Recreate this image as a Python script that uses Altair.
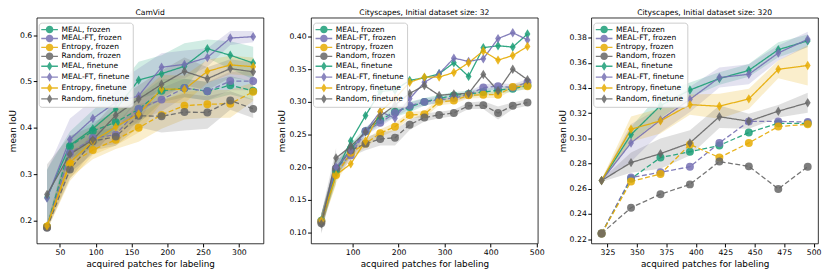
import altair as alt
import pandas as pd

SERIES = ["MEAL, frozen", "MEAL-FT, frozen", "Entropy, frozen", "Random, frozen",
          "MEAL, finetune", "MEAL-FT, finetune", "Entropy, finetune", "Random, finetune"]
COLORS = ["#1b9e77", "#7570b3", "#e6ab02", "#666666"] * 2
KINDS = ["frozen"] * 4 + ["finetune"] * 4

# ---------------- CamVid ----------------
cam_x = [32, 64, 96, 128, 160, 192, 224, 256, 288, 320]
cam_meal_frozen = [0.186, 0.360, 0.393, 0.412, 0.440, 0.480, 0.486, 0.479, 0.492, 0.480]
cam_mealft_frozen = [0.185, 0.345, 0.378, 0.385, 0.441, 0.461, 0.486, 0.479, 0.501, 0.501]
cam_entropy_frozen = [0.187, 0.322, 0.352, 0.374, 0.400, 0.428, 0.448, 0.451, 0.452, 0.478]
cam_random_frozen = [0.184, 0.310, 0.371, 0.381, 0.426, 0.425, 0.434, 0.433, 0.459, 0.441]
cam_meal_ft = [0.250, 0.362, 0.398, 0.440, 0.503, 0.517, 0.533, 0.571, 0.557, 0.540]
cam_mealft_ft = [0.248, 0.375, 0.420, 0.455, 0.469, 0.531, 0.537, 0.552, 0.594, 0.597]
cam_entropy_ft = [0.188, 0.325, 0.371, 0.402, 0.430, 0.484, 0.483, 0.522, 0.536, 0.532]
cam_random_ft = [0.256, 0.343, 0.374, 0.427, 0.462, 0.494, 0.522, 0.506, 0.528, 0.521]
cam_spread = [
    [0.005, 0.02, 0.02, 0.02, 0.03, 0.025, 0.02, 0.02, 0.02, 0.02],
    [0.005, 0.02, 0.02, 0.02, 0.025, 0.025, 0.02, 0.02, 0.02, 0.02],
    [0.005, 0.03, 0.02, 0.02, 0.03, 0.03, 0.03, 0.03, 0.03, 0.02],
    [0.005, 0.02, 0.02, 0.02, 0.025, 0.035, 0.04, 0.035, 0.02, 0.02],
    [0.06, 0.03, 0.04, 0.04, 0.04, 0.04, 0.05, 0.02, 0.03, 0.035],
    [0.06, 0.045, 0.04, 0.04, 0.06, 0.03, 0.03, 0.02, 0.015, 0.012],
    [0.01, 0.04, 0.03, 0.04, 0.04, 0.03, 0.03, 0.025, 0.02, 0.02],
    [0.065, 0.04, 0.03, 0.03, 0.03, 0.03, 0.03, 0.025, 0.02, 0.02],
]

# ---------------- Cityscapes, initial 32 ----------------
cs32_x = [32, 64, 96, 128, 160, 192, 224, 256, 288, 320, 352, 384, 416, 448, 480]
cs32_meal_frozen = [0.118, 0.195, 0.228, 0.255, 0.272, 0.285, 0.292, 0.300, 0.305, 0.310, 0.312, 0.315, 0.318, 0.320, 0.325]
cs32_mealft_frozen = [0.117, 0.198, 0.218, 0.255, 0.268, 0.283, 0.294, 0.300, 0.303, 0.306, 0.311, 0.322, 0.324, 0.322, 0.330]
cs32_entropy_frozen = [0.117, 0.188, 0.222, 0.236, 0.252, 0.262, 0.280, 0.281, 0.300, 0.302, 0.310, 0.311, 0.311, 0.323, 0.324]
cs32_random_frozen = [0.114, 0.198, 0.226, 0.236, 0.243, 0.245, 0.265, 0.276, 0.280, 0.283, 0.294, 0.295, 0.283, 0.294, 0.299]
cs32_meal_ft = [0.119, 0.192, 0.240, 0.279, 0.316, 0.318, 0.333, 0.337, 0.343, 0.360, 0.339, 0.383, 0.386, 0.384, 0.404]
cs32_mealft_ft = [0.118, 0.200, 0.225, 0.255, 0.285, 0.275, 0.305, 0.330, 0.343, 0.367, 0.362, 0.366, 0.397, 0.406, 0.395]
cs32_entropy_ft = [0.118, 0.188, 0.205, 0.240, 0.285, 0.305, 0.330, 0.338, 0.338, 0.345, 0.360, 0.378, 0.364, 0.371, 0.385]
cs32_random_ft = [0.113, 0.214, 0.232, 0.254, 0.278, 0.295, 0.313, 0.325, 0.310, 0.312, 0.313, 0.342, 0.317, 0.350, 0.334]
cs32_spread = [
    [0.01, 0.012, 0.008, 0.006, 0.006, 0.008, 0.008, 0.006, 0.006, 0.005, 0.005, 0.005, 0.005, 0.005, 0.005],
    [0.01, 0.012, 0.008, 0.006, 0.006, 0.006, 0.005, 0.005, 0.005, 0.005, 0.005, 0.005, 0.005, 0.005, 0.005],
    [0.01, 0.012, 0.008, 0.006, 0.006, 0.006, 0.005, 0.005, 0.005, 0.005, 0.005, 0.005, 0.005, 0.005, 0.005],
    [0.015, 0.012, 0.01, 0.01, 0.01, 0.012, 0.008, 0.006, 0.005, 0.005, 0.005, 0.006, 0.01, 0.005, 0.005],
    [0.01, 0.015, 0, 0, 0, 0, 0, 0, 0, 0, 0, 0, 0, 0, 0],
    [0.01, 0.015, 0, 0, 0, 0, 0, 0, 0, 0, 0, 0, 0, 0, 0],
    [0.01, 0.015, 0, 0, 0, 0, 0, 0, 0, 0, 0, 0, 0, 0, 0],
    [0.015, 0.015, 0, 0, 0, 0, 0, 0, 0, 0, 0, 0, 0, 0, 0],
]

# ---------------- Cityscapes, initial 320 ----------------
cs320_x = [320, 345, 370, 395, 420, 445, 470, 495]
cs320_meal_frozen = [0.2245, 0.2680, 0.2848, 0.2894, 0.2944, 0.3047, 0.3120, 0.3120]
cs320_mealft_frozen = [0.2245, 0.2689, 0.2731, 0.2775, 0.2964, 0.3135, 0.3135, 0.3130]
cs320_entropy_frozen = [0.2245, 0.2658, 0.2718, 0.2952, 0.2848, 0.2964, 0.3094, 0.3112]
cs320_random_frozen = [0.2245, 0.2450, 0.2557, 0.2635, 0.2816, 0.2778, 0.2599, 0.2775]
cs320_meal_ft = [0.2665, 0.3030, 0.3260, 0.3384, 0.3475, 0.3540, 0.3704, 0.3774]
cs320_mealft_ft = [0.2665, 0.2964, 0.3146, 0.3310, 0.3483, 0.3509, 0.3678, 0.3787]
cs320_entropy_ft = [0.2665, 0.3073, 0.3139, 0.3268, 0.3255, 0.3314, 0.3548, 0.3579]
cs320_random_ft = [0.2665, 0.2808, 0.2879, 0.2964, 0.3172, 0.3136, 0.3216, 0.3283]
cs320_spread = [
    [0, 0, 0, 0, 0, 0, 0, 0],
    [0, 0, 0, 0, 0, 0, 0, 0],
    [0, 0, 0, 0, 0, 0, 0, 0],
    [0, 0, 0, 0, 0, 0, 0, 0],
    [0.001, 0.006, 0.010, 0.006, 0.005, 0.005, 0.006, 0.005],
    [0.001, 0.015, 0.010, 0.010, 0.008, 0.008, 0.006, 0.006],
    [0.001, 0.010, 0.010, 0.008, 0.010, 0.008, 0.007, 0.016],
    [0.001, 0.008, 0.012, 0.010, 0.009, 0.006, 0.005, 0.008],
]

DIAMOND = "M0,-1L0.62,0L0,1L-0.62,0Z"
LEG_CIRCLE = "M-2,-0.16L2,-0.16L2,0.16L-2,0.16Z M0.9,0A0.9,0.9,0,1,1,-0.9,0A0.9,0.9,0,1,1,0.9,0Z"
LEG_DIAMOND = "M-2,-0.16L2,-0.16L2,0.16L-2,0.16Z M0,-1.1L0.68,0L0,1.1L-0.68,0Z"
LEG_SHAPES = [LEG_CIRCLE] * 4 + [LEG_DIAMOND] * 4


def make_df(x, ys, spreads):
    rows = []
    for name, kind, yv, sv in zip(SERIES, KINDS, ys, spreads):
        for xi, yi, si in zip(x, yv, sv):
            rows.append({"x": xi, "y": yi, "lo": yi - si, "hi": yi + si,
                         "series": name, "kind": kind})
    return pd.DataFrame(rows)


def panel(df, title, xdom, xticks, ydom, yticks, yfmt, w=229, h=228):
    base = alt.Chart(df)
    xs = alt.Scale(domain=xdom, nice=False, zero=False)
    ys = alt.Scale(domain=ydom, nice=False, zero=False)
    xax = alt.Axis(values=xticks, format="d", title="acquired patches for labeling")
    yax = alt.Axis(values=yticks, format=yfmt, title="mean IoU")
    X = alt.X("x:Q", scale=xs, axis=xax)
    Y = alt.Y("y:Q", scale=ys, axis=yax)
    cscale = alt.Scale(domain=SERIES, range=COLORS)
    color = alt.Color("series:N", scale=cscale, legend=None)

    L = alt.Legend(title=None, orient="none", legendX=2, legendY=5, padding=2.5,
                   fillColor="rgba(255,255,255,0.85)", strokeColor="#cccccc", cornerRadius=3,
                   labelFontSize=7.6, labelColor="black", symbolSize=71, symbolStrokeWidth=0,
                   symbolOpacity=0.85, rowPadding=0, symbolOffset=4, labelOffset=7.5,
                   labelLimit=200)
    leg = base.transform_filter("datum.x < -1000").mark_point(filled=True, opacity=0.85).encode(
        x=X, y=Y,
        color=alt.Color("series:N", scale=cscale, legend=L),
        shape=alt.Shape("series:N", scale=alt.Scale(domain=SERIES, range=LEG_SHAPES), legend=L))

    band = base.transform_filter("datum.hi > datum.lo").mark_area(opacity=0.2, clip=True).encode(
        x=X, y=alt.Y("lo:Q", scale=ys, axis=yax), y2="hi:Q", color=color, detail="series:N")
    line = base.mark_line(strokeWidth=1.3, opacity=0.9, clip=True).encode(
        x=X, y=Y, color=color,
        strokeDash=alt.StrokeDash("kind:N", scale=alt.Scale(domain=["frozen", "finetune"],
                                                           range=[[5, 2.5], [1, 0]]), legend=None))
    p_frozen = base.transform_filter("datum.kind == 'frozen'").mark_point(
        filled=True, opacity=0.85, shape="circle", size=64, clip=True).encode(x=X, y=Y, color=color)
    p_ft = base.transform_filter("datum.kind == 'finetune'").mark_point(
        filled=True, opacity=0.85, shape=DIAMOND, size=90, clip=True).encode(x=X, y=Y, color=color)

    return alt.layer(leg, band, line, p_frozen, p_ft).properties(
        width=w, height=h,
        title=alt.TitleParams(title, fontSize=7.7, fontWeight="normal", offset=1, anchor="middle",
                              color="black"))


cam_df = make_df(cam_x, [cam_meal_frozen, cam_mealft_frozen, cam_entropy_frozen, cam_random_frozen,
                         cam_meal_ft, cam_mealft_ft, cam_entropy_ft, cam_random_ft], cam_spread)
cs32_df = make_df(cs32_x, [cs32_meal_frozen, cs32_mealft_frozen, cs32_entropy_frozen, cs32_random_frozen,
                           cs32_meal_ft, cs32_mealft_ft, cs32_entropy_ft, cs32_random_ft], cs32_spread)
cs320_df = make_df(cs320_x, [cs320_meal_frozen, cs320_mealft_frozen, cs320_entropy_frozen, cs320_random_frozen,
                             cs320_meal_ft, cs320_mealft_ft, cs320_entropy_ft, cs320_random_ft], cs320_spread)

p1 = panel(cam_df, "CamVid", [17.6, 334.4], [50, 100, 150, 200, 250, 300],
           [0.150, 0.638], [0.2, 0.3, 0.4, 0.5, 0.6], ".1f")
p2 = panel(cs32_df, "Cityscapes, Initial dataset size: 32", [9.6, 502.4], [100, 200, 300, 400, 500],
           [0.083, 0.429], [0.10, 0.15, 0.20, 0.25, 0.30, 0.35, 0.40], ".2f")
p3 = panel(cs320_df, "Cityscapes, Initial dataset size: 320", [311.25, 503.75],
           [325, 350, 375, 400, 425, 450, 475, 500],
           [0.2166, 0.3958], [0.22, 0.24, 0.26, 0.28, 0.30, 0.32, 0.34, 0.36, 0.38], ".2f")

chart = alt.hconcat(p1, p2, p3, spacing=13).resolve_scale(
    color="independent", shape="independent", strokeDash="independent").resolve_legend(
    color="independent", shape="independent").properties(
    padding={"left": 0, "right": 0, "top": -1.5, "bottom": 0}).configure(
    font="DejaVu Sans").configure_view(stroke="black", strokeWidth=0.8).configure_axis(
    grid=False, domain=False, tickColor="black", tickSize=3.5, labelFontSize=7.8,
    labelColor="black", titleFontSize=8.9, titleFontWeight="normal", titleColor="black",
    labelPadding=1.5, labelFlush=False).configure_axisX(titlePadding=3).configure_axisY(
    titlePadding=2)

chart.save("out.html", embed_options={"renderer": "svg", "actions": False})
